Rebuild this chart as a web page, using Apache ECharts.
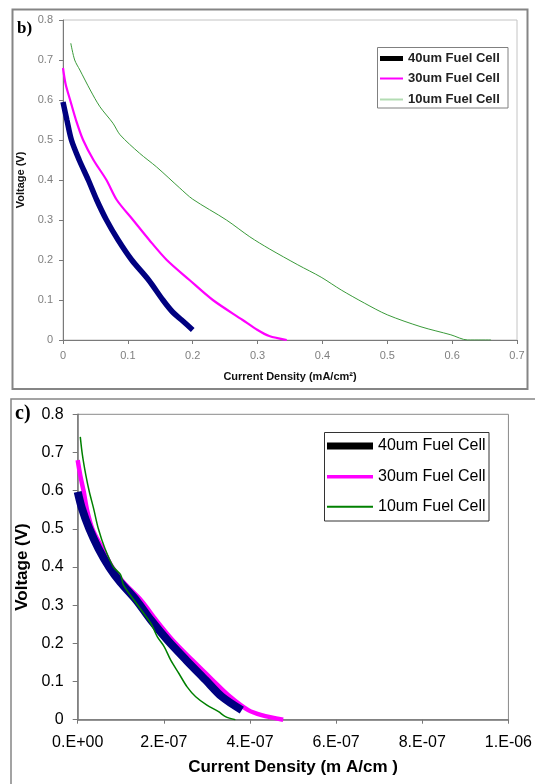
<!DOCTYPE html>
<html>
<head>
<meta charset="utf-8">
<title>Fuel cell polarization curves</title>
<script src="https://cdn.jsdelivr.net/npm/echarts@6/dist/echarts.min.js"></script>
<style>
  html, body { margin: 0; padding: 0; background: #fff; }
  #chart { width: 535px; height: 784px; }
</style>
</head>
<body>
<div id="chart"></div>
<script>
// ---- Panel b): current density in mA/cm^2 ----
const bCurrent40 = [0.000, 0.006, 0.013, 0.025, 0.039, 0.052, 0.067, 0.085, 0.106, 0.132, 0.154, 0.169, 0.183, 0.200];
const bVoltage40 = [0.595, 0.550, 0.500, 0.450, 0.400, 0.350, 0.300, 0.250, 0.200, 0.150, 0.100, 0.070, 0.050, 0.025];

const bCurrent30 = [0.000, 0.004, 0.011, 0.020, 0.031, 0.047, 0.067, 0.083, 0.108, 0.133, 0.160, 0.195, 0.231, 0.277, 0.300, 0.318, 0.345];
const bVoltage30 = [0.680, 0.640, 0.600, 0.550, 0.500, 0.450, 0.400, 0.350, 0.300, 0.250, 0.200, 0.150, 0.100, 0.050, 0.025, 0.010, 0.000];

const bCurrent10 = [0.012, 0.018, 0.026, 0.042, 0.057, 0.077, 0.088, 0.118, 0.144, 0.180, 0.200, 0.252, 0.288, 0.318, 0.362, 0.398, 0.429, 0.465, 0.500, 0.552, 0.598, 0.624, 0.660];
const bVoltage10 = [0.742, 0.700, 0.675, 0.625, 0.583, 0.542, 0.513, 0.467, 0.433, 0.380, 0.352, 0.300, 0.258, 0.228, 0.188, 0.157, 0.125, 0.092, 0.063, 0.033, 0.013, 0.000, 0.000];

// ---- Panel c): same cells, current density on a scientific scale ----
const cCurrent40 = [0, 0.10e-7, 0.27e-7, 0.48e-7, 0.73e-7, 0.99e-7, 1.36e-7, 1.70e-7, 2.08e-7, 2.52e-7, 2.97e-7, 3.35e-7, 3.81e-7];
const cVoltage40 = [0.597, 0.553, 0.500, 0.449, 0.400, 0.360, 0.313, 0.261, 0.209, 0.156, 0.104, 0.060, 0.025];

const cCurrent30 = [0, 0.06e-7, 0.14e-7, 0.21e-7, 0.34e-7, 0.57e-7, 0.80e-7, 1.06e-7, 1.47e-7, 1.82e-7, 2.20e-7, 2.66e-7, 3.13e-7, 3.54e-7, 3.96e-7, 4.27e-7, 4.77e-7];
const cVoltage30 = [0.680, 0.640, 0.597, 0.553, 0.500, 0.449, 0.400, 0.360, 0.313, 0.261, 0.209, 0.156, 0.104, 0.060, 0.025, 0.012, 0.000];

const cCurrent10 = [0.06e-7, 0.11e-7, 0.19e-7, 0.27e-7, 0.37e-7, 0.48e-7, 0.63e-7, 0.83e-7, 1.00e-7, 1.06e-7, 1.36e-7, 1.70e-7, 1.85e-7, 2.01e-7, 2.16e-7, 2.35e-7, 2.54e-7, 2.74e-7, 3.00e-7, 3.27e-7, 3.43e-7, 3.66e-7];
const cVoltage10 = [0.741, 0.693, 0.640, 0.597, 0.553, 0.500, 0.449, 0.400, 0.379, 0.353, 0.305, 0.252, 0.217, 0.191, 0.156, 0.121, 0.086, 0.060, 0.038, 0.021, 0.008, 0.000];

const seriesNames = ['40um Fuel Cell', '30um Fuel Cell', '10um Fuel Cell'];

const zip = (xs, ys) => xs.map((x, i) => [x, ys[i]]);

// Excel-style scientific labels: 2.E-07, 0.E+00, ...
function sciLabel(v) {
  if (v === 0) return '0.E+00';
  const e = Math.floor(Math.log10(v) + 1e-9);
  const m = Math.round(v / Math.pow(10, e));
  return m + '.E' + (e < 0 ? '-' : '+') + String(Math.abs(e)).padStart(2, '0');
}

const SANS = '"Liberation Sans", Arial, sans-serif';
const SERIF = '"Liberation Serif", "Times New Roman", serif';

// One legend row per entry so each swatch can have its own thickness.
// The row box is as tall as its text, with the swatch centred in it.
function legendRow(name, color, thickness, centerY, left, swatchW, gap, textStyle) {
  return {
    orient: 'vertical', left: left, top: centerY - textStyle.fontSize / 2, padding: 0,
    itemWidth: swatchW, itemHeight: thickness, itemTextGap: gap,
    selectedMode: false, icon: 'rect', textStyle: textStyle,
    data: [{ name: name, icon: 'rect', itemStyle: { color: color, borderWidth: 0 } }]
  };
}

const legendTextB = { fontFamily: SANS, fontWeight: 'bold', fontSize: 13, color: '#222' };
const legendTextC = { fontFamily: SANS, fontSize: 16, color: '#000' };

const lineDefaults = { type: 'line', symbol: 'none', smooth: 0.3 };

const chart = echarts.init(document.getElementById('chart'), null, { renderer: 'canvas' });

chart.setOption({
  animation: false,
  backgroundColor: '#fff',
  textStyle: { fontFamily: SANS },
  grid: [
    { left: 63, top: 20, width: 454, height: 320, show: true, borderColor: '#c4c4c4', borderWidth: 1 },
    { left: 77.7, top: 414.3, width: 435.6, height: 305.4, show: true, borderColor: '#8a8a8a', borderWidth: 1 }
  ],
  xAxis: [
    {
      type: 'value', gridIndex: 0, min: 0, max: 0.7, interval: 0.1,
      name: 'Current Density (mA/cm²)', nameLocation: 'middle', nameGap: 31,
      nameTextStyle: { fontFamily: SANS, fontWeight: 'bold', fontSize: 11, color: '#111' },
      axisLine: { lineStyle: { color: '#7a7a7a', width: 1 } },
      axisTick: { length: 4, lineStyle: { color: '#7a7a7a' } },
      axisLabel: { fontFamily: SANS, fontSize: 11, color: '#7f7f7f', margin: 10 },
      splitLine: { show: false }
    },
    {
      type: 'value', gridIndex: 1, min: 0, max: 1e-6, interval: 2e-7,
      name: 'Current Density (m A/cm )', nameLocation: 'middle', nameGap: 39,
      nameTextStyle: { fontFamily: SANS, fontWeight: 'bold', fontSize: 17, color: '#000' },
      axisLine: { lineStyle: { color: '#777', width: 1.5 } },
      axisTick: { length: 4, lineStyle: { color: '#777' } },
      axisLabel: { fontFamily: SANS, fontSize: 16, color: '#000', margin: 15, formatter: sciLabel },
      splitLine: { show: false }
    }
  ],
  yAxis: [
    {
      type: 'value', gridIndex: 0, min: 0, max: 0.8, interval: 0.1,
      name: 'Voltage (V)', nameLocation: 'middle', nameGap: 34,
      nameTextStyle: { fontFamily: SANS, fontWeight: 'bold', fontSize: 11, color: '#111' },
      axisLine: { show: true, lineStyle: { color: '#7a7a7a', width: 1 } },
      axisTick: { show: true, length: 4, lineStyle: { color: '#7a7a7a' } },
      axisLabel: { fontFamily: SANS, fontSize: 11, color: '#7f7f7f', margin: 10 },
      splitLine: { show: false }
    },
    {
      type: 'value', gridIndex: 1, min: 0, max: 0.8, interval: 0.1,
      name: 'Voltage (V)', nameLocation: 'middle', nameGap: 45,
      nameTextStyle: { fontFamily: SANS, fontWeight: 'bold', fontSize: 17, color: '#000' },
      axisLine: { show: true, lineStyle: { color: '#777', width: 1.5 } },
      axisTick: { show: true, length: 5, lineStyle: { color: '#777' } },
      axisLabel: { fontFamily: SANS, fontSize: 16, color: '#000', margin: 14 },
      splitLine: { show: false }
    }
  ],
  legend: [
    legendRow(seriesNames[0], '#000', 5, 58.5, 380, 23, 3, legendTextB),
    legendRow(seriesNames[1], '#ff00ff', 2, 78.5, 380, 23, 3, legendTextB),
    legendRow(seriesNames[2], '#b3dcb3', 2, 99.5, 380, 23, 3, legendTextB),
    legendRow(seriesNames[0], '#000', 7, 446, 327, 46, 4, legendTextC),
    legendRow(seriesNames[1], '#ff00ff', 3.5, 476.7, 327, 46, 4, legendTextC),
    legendRow(seriesNames[2], '#008000', 2, 506.7, 327, 46, 4, legendTextC)
  ],
  series: [
    // panel b)
    Object.assign({}, lineDefaults, { name: seriesNames[0], xAxisIndex: 0, yAxisIndex: 0,
      lineStyle: { color: '#000080', width: 5.5 }, itemStyle: { color: '#000080' },
      data: zip(bCurrent40, bVoltage40) }),
    Object.assign({}, lineDefaults, { name: seriesNames[1], xAxisIndex: 0, yAxisIndex: 0,
      lineStyle: { color: '#ff00ff', width: 2.2 }, itemStyle: { color: '#ff00ff' },
      data: zip(bCurrent30, bVoltage30) }),
    Object.assign({}, lineDefaults, { name: seriesNames[2], xAxisIndex: 0, yAxisIndex: 0,
      lineStyle: { color: '#3a9a3a', width: 1 }, itemStyle: { color: '#3a9a3a' },
      data: zip(bCurrent10, bVoltage10) }),
    // panel c)
    Object.assign({}, lineDefaults, { name: seriesNames[1], xAxisIndex: 1, yAxisIndex: 1,
      lineStyle: { color: '#ff00ff', width: 4.5 }, itemStyle: { color: '#ff00ff' },
      data: zip(cCurrent30, cVoltage30) }),
    Object.assign({}, lineDefaults, { name: seriesNames[0], xAxisIndex: 1, yAxisIndex: 1,
      lineStyle: { color: '#000080', width: 8 }, itemStyle: { color: '#000080' },
      data: zip(cCurrent40, cVoltage40) }),
    Object.assign({}, lineDefaults, { name: seriesNames[2], xAxisIndex: 1, yAxisIndex: 1,
      lineStyle: { color: '#008000', width: 1.5 }, itemStyle: { color: '#008000' },
      data: zip(cCurrent10, cVoltage10) })
  ],
  graphic: [
    // frames around both panels
    { type: 'rect', silent: true, shape: { x: 12.5, y: 9.5, width: 515, height: 379.5 },
      style: { fill: 'none', stroke: '#858585', lineWidth: 2 } },
    { type: 'rect', silent: true, shape: { x: 11, y: 399, width: 540, height: 400 },
      style: { fill: 'none', stroke: '#858585', lineWidth: 1.5 } },
    // legend boxes
    { type: 'rect', silent: true, shape: { x: 377.5, y: 47.5, width: 130.5, height: 60.5 },
      style: { fill: 'none', stroke: '#808080', lineWidth: 1 } },
    { type: 'rect', silent: true, shape: { x: 324.5, y: 432.5, width: 164.5, height: 88.5 },
      style: { fill: 'none', stroke: '#333', lineWidth: 1 } },
    // panel letters
    { type: 'text', silent: true, x: 17, y: 20,
      style: { text: 'b)', font: 'bold 17px ' + SERIF, fill: '#000' } },
    { type: 'text', silent: true, x: 15, y: 404,
      style: { text: 'c)', font: 'bold 20px ' + SERIF, fill: '#000' } }
  ]
});
</script>
</body>
</html>
